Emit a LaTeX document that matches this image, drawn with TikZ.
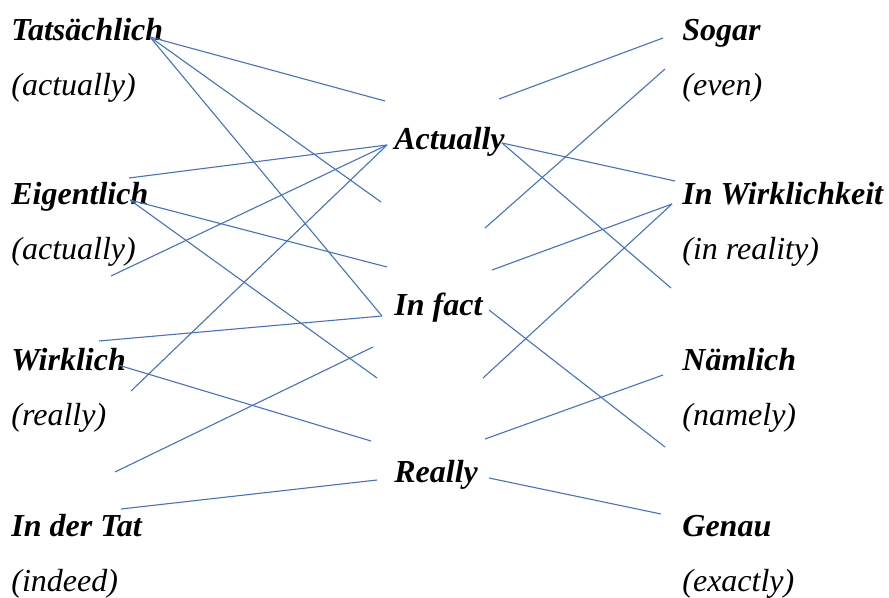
\documentclass[tikz,border=0pt]{standalone}
\usepackage{fontspec}
\setmainfont{Liberation Serif}
\usepackage{tikz}
\usetikzlibrary{positioning}
\definecolor{lineblue}{RGB}{68,114,196}

\begin{document}
\begin{tikzpicture}[x=0.5pt,y=-0.5pt,node distance=27.25pt,
  word/.style={inner sep=0pt,anchor=base west,font=\fontsize{16}{19}\selectfont\bfseries\itshape},
  gloss/.style={inner sep=0pt,anchor=base west,font=\fontsize{16}{19}\selectfont\itshape},
  link/.style={draw=lineblue,line width=0.55pt}]
  \useasboundingbox (0,0) rectangle (889,598);
  % german words on the left
  \node[word] (tats) at (11,41) {Tatsächlich};
  \node[below=of tats.base west,gloss] (tatsG) {(actually)};
  \node[word] (eigen) at (11,205) {Eigentlich};
  \node[below=of eigen.base west,gloss] (eigenG) {(actually)};
  \node[word] (wirk) at (11,371) {Wirklich};
  \node[below=of wirk.base west,gloss] (wirkG) {(really)};
  \node[word] (tat) at (11,537) {In der Tat};
  \node[below=of tat.base west,gloss] (tatG) {(indeed)};
  % english words in the middle
  \node[word] (actually) at (394,150) {Actually};
  \node[word] (infact) at (394,316) {In fact};
  \node[word] (really) at (394,482) {Really};
  % german words on the right
  \node[word] (sogar) at (682,41) {Sogar};
  \node[below=of sogar.base west,gloss] (sogarG) {(even)};
  \node[word] (inwirk) at (682,205) {In Wirklichkeit};
  \node[below=of inwirk.base west,gloss] (inwirkG) {(in reality)};
  \node[word] (naem) at (682,371) {Nämlich};
  \node[below=of naem.base west,gloss] (naemG) {(namely)};
  \node[word] (genau) at (682,537) {Genau};
  \node[below=of genau.base west,gloss] (genauG) {(exactly)};

  % loose ends
  \coordinate (l1) at (129,178);
  \coordinate (l2) at (111,276);
  \coordinate (l3) at (131,391);
  \coordinate (l4) at (99,341);
  \coordinate (l5) at (115,472);
  \coordinate (l6) at (121,509);
  \coordinate (ml1) at (385,101);
  \coordinate (ml2) at (381,202);
  \coordinate (ml3) at (387,267);
  \coordinate (ml4) at (377,378);
  \coordinate (ml5) at (373,347);
  \coordinate (ml6) at (371,441);
  \coordinate (mr1) at (499,99);
  \coordinate (mr2) at (485,228);
  \coordinate (mr3) at (492,270);
  \coordinate (mr4) at (483,378);
  \coordinate (mr5) at (485,439);
  \coordinate (r1) at (663,38);
  \coordinate (r2) at (665,69);
  \coordinate (r3) at (675,181);
  \coordinate (r4) at (671,288);
  \coordinate (r5) at (665,447);
  \coordinate (r6) at (663,375);
  \coordinate (r7) at (661,514);

  \path[link]
  ([shift={(139,-4)}]tats.base west)
  edge (ml1)
  edge (ml2)
  edge ([shift={(-12,0)}]infact.base west)
  ([shift={(-7,-5)}]actually.base west)
  edge (l1)
  edge (l2)
  edge (l3)
  ([shift={(119,-5)}]eigen.base west)
  edge (ml3)
  edge (ml4)
  ([shift={(-12,0)}]infact.base west)
  edge (l4)
  ([shift={(107,-6)}]wirk.base west)
  edge (ml6)
  (l5) edge (ml5)
  (l6) edge ([shift={(-17,-2)}]really.base west)
  (mr1) edge (r1)
  (mr2) edge (r2)
  ([shift={(108,-7)}]actually.base west)
  edge (r3)
  edge (r4)
  ([shift={(-10,-1)}]inwirk.base west)
  edge (mr3)
  edge (mr4)
  ([shift={(95,-6)}]infact.base west)
  edge (r5)
  (mr5) edge (r6)
  ([shift={(95,-4)}]really.base west)
  edge (r7)
  ;
\end{tikzpicture}
\end{document}
